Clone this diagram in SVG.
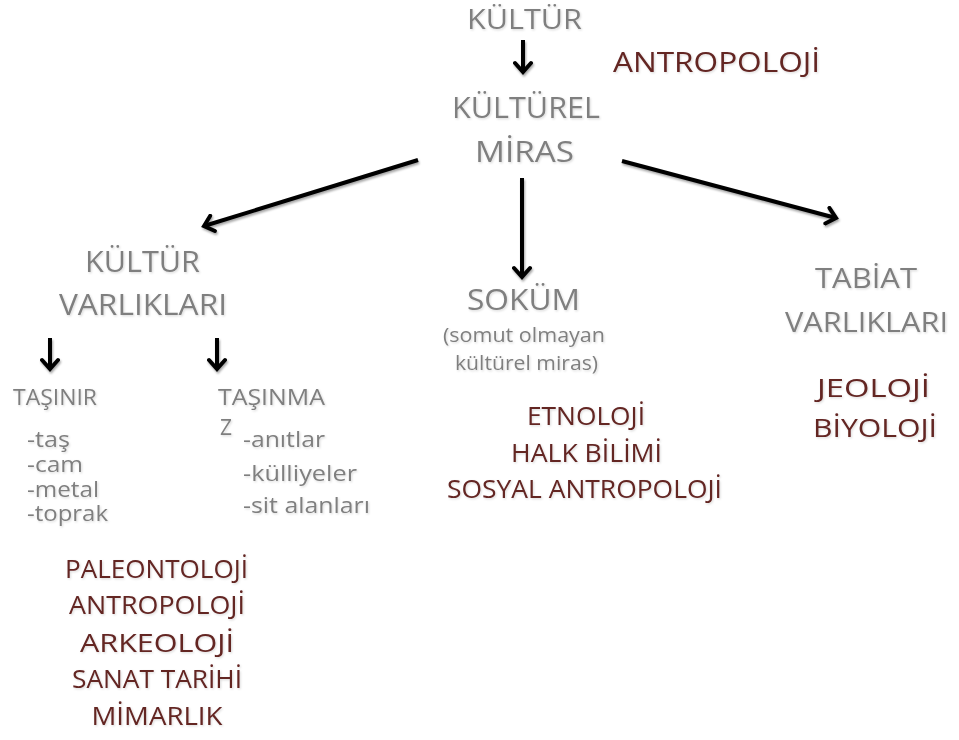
<svg xmlns="http://www.w3.org/2000/svg" width="959" height="740" viewBox="0 0 959 740">
<defs>
<style>
text{font-family:"Open Sans","Liberation Sans",sans-serif;text-anchor:middle}
.g{fill:#7f7f7f}
.r{fill:#632523}
.s{text-anchor:start}
.t{filter:url(#ts)}
.c{stroke:#000;stroke-width:4;fill:none;marker-end:url(#ah)}
#connectors{filter:url(#as)}
</style>
<filter id="as" filterUnits="userSpaceOnUse" x="0" y="0" width="959" height="740"><feDropShadow dx="1" dy="2" stdDeviation="1.2" flood-color="#000" flood-opacity="0.35"/></filter>
<filter id="ts" filterUnits="userSpaceOnUse" x="0" y="0" width="959" height="740"><feDropShadow dx="1" dy="1.2" stdDeviation="0.8" flood-color="#000" flood-opacity="0.15"/></filter>
<marker id="ah" viewBox="0 0 20 20" refX="15" refY="10" markerWidth="20" markerHeight="20" markerUnits="userSpaceOnUse" orient="auto">
<path d="M6,2 L15,10 L6,18" fill="none" stroke="#000" stroke-width="4" stroke-linecap="round" stroke-linejoin="miter"/>
</marker>
</defs>
<rect width="959" height="740" fill="#fff"/>
<g id="connectors">
<line class="c" x1="523" y1="40" x2="523" y2="72"/>
<line class="c" x1="418" y1="160" x2="204" y2="226"/>
<line class="c" x1="522" y1="178" x2="522" y2="277"/>
<line class="c" x1="622" y1="161" x2="836" y2="218"/>
<line class="c" x1="50" y1="338" x2="50" y2="369"/>
<line class="c" x1="217" y1="338" x2="217" y2="369"/>
</g>
<g id="kultur" class="t"><text class="g" x="524.5" y="29" font-size="28" textLength="115" lengthAdjust="spacingAndGlyphs">KÜLTÜR</text></g>
<g id="antropoloji-top" class="t"><text class="r" x="716.5" y="72" font-size="28" textLength="207" lengthAdjust="spacingAndGlyphs">ANTROPOLOJİ</text></g>
<g id="kulturel-miras" class="t">
<text class="g" x="526" y="118" font-size="29" textLength="148" lengthAdjust="spacingAndGlyphs">KÜLTÜREL</text>
<text class="g" x="524.5" y="162" font-size="29" textLength="99" lengthAdjust="spacingAndGlyphs">MİRAS</text>
</g>
<g id="kultur-varliklari" class="t">
<text class="g" x="142.5" y="272" font-size="30" textLength="115" lengthAdjust="spacingAndGlyphs">KÜLTÜR</text>
<text class="g" x="143" y="315" font-size="30" textLength="168" lengthAdjust="spacingAndGlyphs">VARLIKLARI</text>
</g>
<g id="tasinir" class="t">
<text class="g" x="55" y="405" font-size="21" textLength="84" lengthAdjust="spacingAndGlyphs">TAŞINIR</text>
<text class="g s" x="27" y="447" font-size="21" textLength="43" lengthAdjust="spacingAndGlyphs">-taş</text>
<text class="g s" x="27" y="472" font-size="21" textLength="56" lengthAdjust="spacingAndGlyphs">-cam</text>
<text class="g s" x="27" y="497" font-size="21" textLength="72" lengthAdjust="spacingAndGlyphs">-metal</text>
<text class="g s" x="27" y="521" font-size="21" textLength="81" lengthAdjust="spacingAndGlyphs">-toprak</text>
</g>
<g id="tasinmaz" class="t">
<text class="g" x="271.5" y="405" font-size="21" textLength="107" lengthAdjust="spacingAndGlyphs">TAŞINMA</text>
<text class="g" x="226" y="435" font-size="21">Z</text>
<text class="g s" x="243" y="447" font-size="21" textLength="82" lengthAdjust="spacingAndGlyphs">-anıtlar</text>
<text class="g s" x="243" y="481" font-size="21" textLength="114" lengthAdjust="spacingAndGlyphs">-külliyeler</text>
<text class="g s" x="243" y="513" font-size="21" textLength="127" lengthAdjust="spacingAndGlyphs">-sit alanları</text>
</g>
<g id="sokum" class="t">
<text class="g" x="523.5" y="310" font-size="30" textLength="113" lengthAdjust="spacingAndGlyphs">SOKÜM</text>
<text class="g" x="524" y="342" font-size="20" textLength="162" lengthAdjust="spacingAndGlyphs">(somut olmayan</text>
<text class="g" x="526.5" y="370" font-size="20" textLength="143" lengthAdjust="spacingAndGlyphs">kültürel miras)</text>
</g>
<g id="sokum-bilimler" class="t">
<text class="r" x="586" y="425" font-size="25" textLength="118" lengthAdjust="spacingAndGlyphs">ETNOLOJİ</text>
<text class="r" x="586.5" y="462" font-size="25" textLength="151" lengthAdjust="spacingAndGlyphs">HALK BİLİMİ</text>
<text class="r" x="584.5" y="498" font-size="25" textLength="275" lengthAdjust="spacingAndGlyphs">SOSYAL ANTROPOLOJİ</text>
</g>
<g id="tabiat-varliklari" class="t">
<text class="g" x="866" y="288" font-size="28" textLength="102" lengthAdjust="spacingAndGlyphs">TABİAT</text>
<text class="g" x="866.5" y="332" font-size="28" textLength="163" lengthAdjust="spacingAndGlyphs">VARLIKLARI</text>
</g>
<g id="tabiat-bilimler" class="t">
<text class="r" x="873.5" y="397" font-size="26" textLength="113" lengthAdjust="spacingAndGlyphs">JEOLOJİ</text>
<text class="r" x="875" y="437" font-size="26" textLength="124" lengthAdjust="spacingAndGlyphs">BİYOLOJİ</text>
</g>
<g id="kultur-bilimler" class="t">
<text class="r" x="156.5" y="578" font-size="25" textLength="183" lengthAdjust="spacingAndGlyphs">PALEONTOLOJİ</text>
<text class="r" x="157" y="614" font-size="25" textLength="176" lengthAdjust="spacingAndGlyphs">ANTROPOLOJİ</text>
<text class="r" x="157" y="652" font-size="25" textLength="154" lengthAdjust="spacingAndGlyphs">ARKEOLOJİ</text>
<text class="r" x="157" y="688" font-size="25" textLength="170" lengthAdjust="spacingAndGlyphs">SANAT TARİHİ</text>
<text class="r" x="157" y="725" font-size="25" textLength="131" lengthAdjust="spacingAndGlyphs">MİMARLIK</text>
</g>
</svg>
